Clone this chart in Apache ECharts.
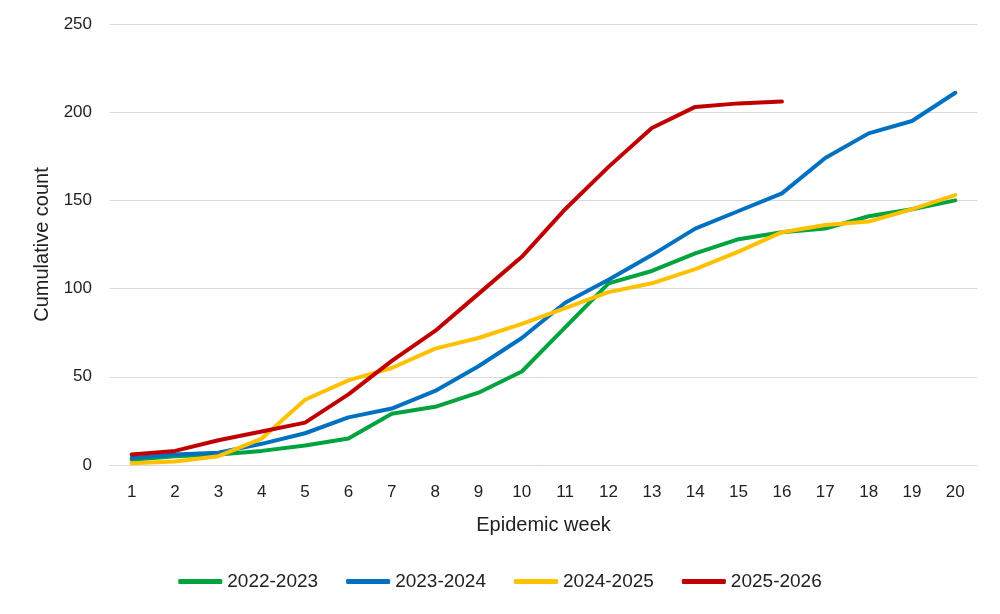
<!DOCTYPE html>
<html><head><meta charset="utf-8">
<script src="https://cdn.jsdelivr.net/npm/echarts@6/dist/echarts.min.js"></script>
<style>html,body{margin:0;padding:0;background:#fff}#c{width:1000px;height:614px}</style>
</head><body><div id="c"></div>
<script>
const weeks = ['1','2','3','4','5','6','7','8','9','10','11','12','13','14','15','16','17','18','19','20'];
const s2022 = [3,5,6,8,11,15,29,33,41,53,78,103,110,120,128,132,134,141,145,150];
const s2023 = [4,6,7,12,18,27,32,42,56,72,92,105,119,134,144,154,174,188,195,211];
const s2024 = [1,2,5,15,37,48,55,66,72,80,89,98,103,111,121,132,136,138,145,153];
const s2025 = [6,8,14,19,24,40,59,76,97,118,145,169,191,203,205,206];
const names = ['2022-2023','2023-2024','2024-2025','2025-2026'];
const colors = ['#00a33e','#0070c0','#ffc000','#c00000'];
const font = 'Liberation Sans, Arial, sans-serif';
const chart = echarts.init(document.getElementById('c'));
const mk = (i, d) => ({name: names[i], type:'line', data:d, symbol:'none', smooth:false,
  lineStyle:{width:4, color:colors[i], cap:'round', join:'round'}, itemStyle:{color:colors[i]}});
chart.setOption({
  animation:false,
  grid:{left:110, right:23, top:24, bottom:149},
  legend:{top:567, left:'center', itemWidth:44, itemHeight:5, itemGap:28, icon:'roundRect',
    textStyle:{fontFamily:font, fontSize:19, color:'#222'}, data:names},
  xAxis:{type:'category', data:weeks, boundaryGap:true,
    name:'Epidemic week', nameLocation:'middle', nameGap:50,
    nameTextStyle:{fontFamily:font, fontSize:20, color:'#222'},
    axisLine:{show:true, lineStyle:{color:'#d9d9d9'}}, axisTick:{show:false},
    axisLabel:{fontFamily:font, fontSize:17, color:'#222', margin:19}},
  yAxis:{type:'value', min:0, max:250, interval:50,
    name:'Cumulative count', nameLocation:'middle', nameGap:58,
    nameTextStyle:{fontFamily:font, fontSize:20, color:'#222'},
    axisLine:{show:false}, axisTick:{show:false},
    splitLine:{lineStyle:{color:'#d9d9d9', width:1}},
    axisLabel:{fontFamily:font, fontSize:17, color:'#222', margin:18}},
  series:[mk(0,s2022), mk(1,s2023), mk(2,s2024), mk(3,s2025)]
});
</script></body></html>
